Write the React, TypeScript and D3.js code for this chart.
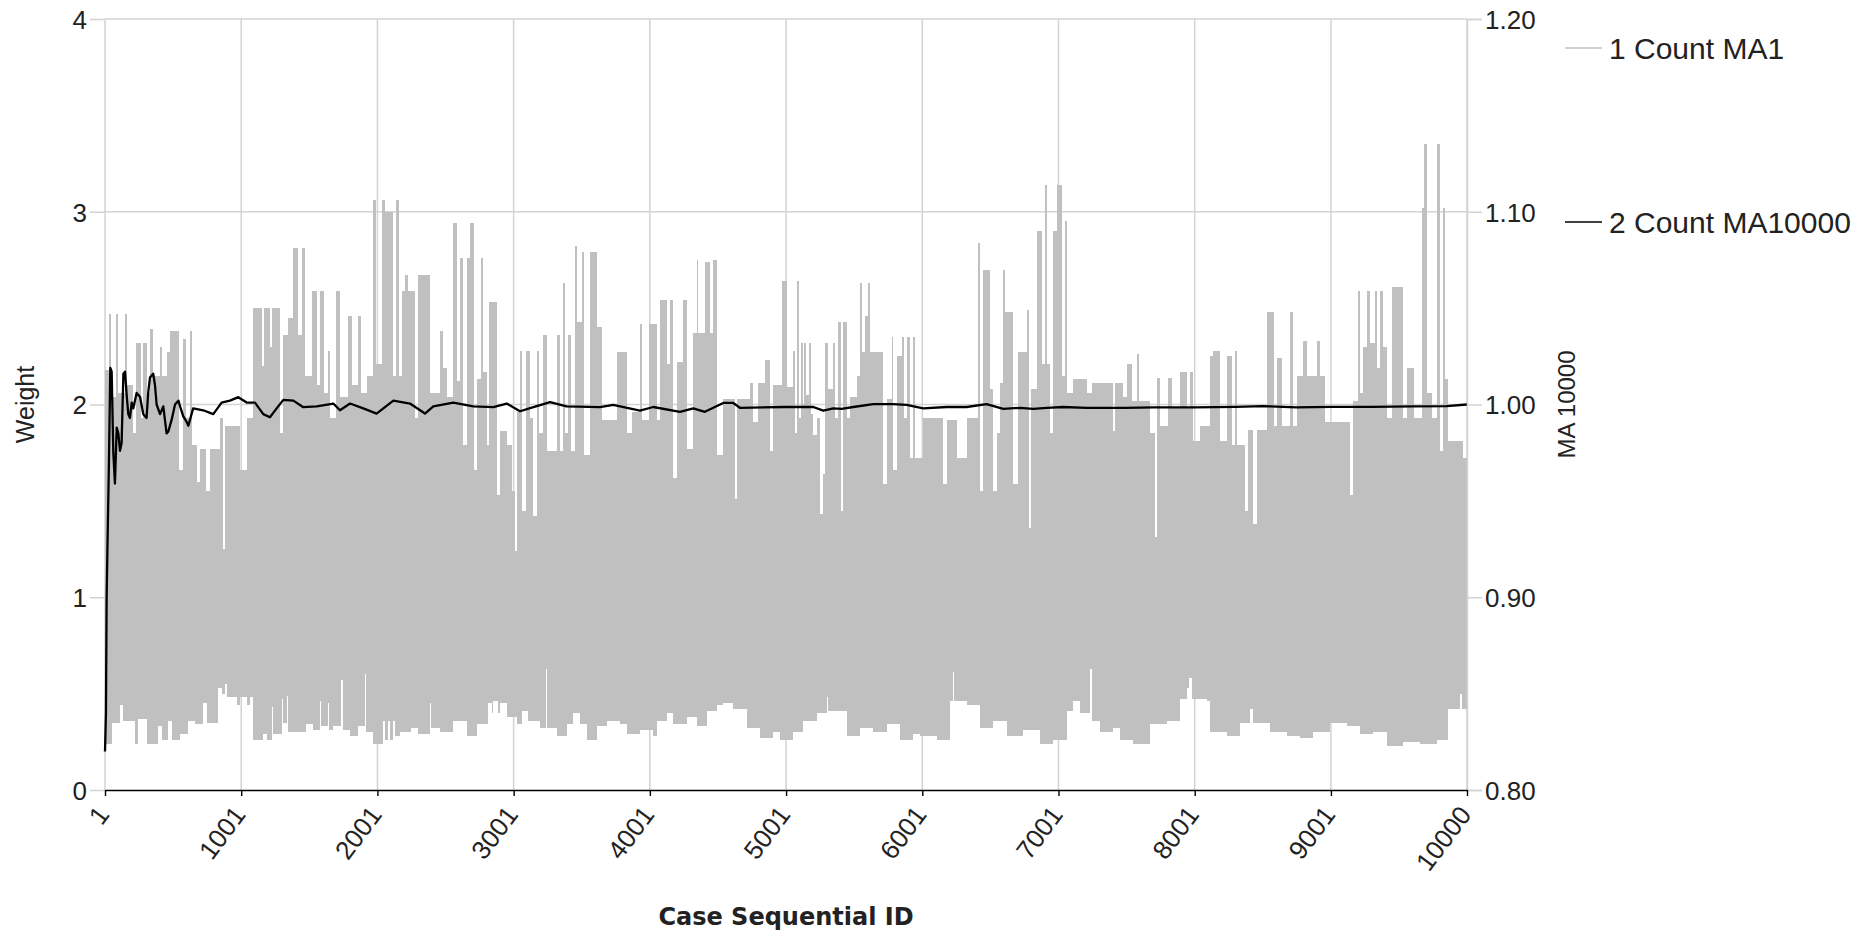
import { useRef, useEffect } from 'react';
import * as d3 from 'd3';

const WIDTH = 1875;
const HEIGHT = 934;

const caseTicks = [1, 1001, 2001, 3001, 4001, 5001, 6001, 7001, 8001, 9001, 10000];
const weightTicks = [0, 1, 2, 3, 4];
const maTicks = [0.8, 0.9, 1.0, 1.1, 1.2];
const seriesNames = ['1 Count MA1', '2 Count MA10000'];

// MA1 weight, upper edge of the dense trace: [case, weight] (each value holds until the next case)
const ma1Top: [number, number][] = [
  [1, 2.18], [27, 2.47], [42, 2.04], [81, 2.47], [100, 2.06], [147, 2.47], [164, 2.1], [208, 1.85],
  [227, 2.32], [262, 1.93], [281, 2.32], [306, 2.06], [330, 2.39], [355, 2.15], [404, 2.3], [423, 2.15],
  [453, 2.27], [477, 2.38], [546, 1.66], [570, 2.34], [594, 1.93], [624, 2.38], [643, 1.79], [673, 1.6],
  [697, 1.77], [746, 1.55], [771, 1.77], [844, 1.93], [869, 1.25], [881, 1.89], [991, 1.66], [1040, 1.93],
  [1084, 2.5], [1150, 2.2], [1165, 2.5], [1215, 2.3], [1228, 2.5], [1285, 1.85], [1309, 2.36], [1346, 2.45],
  [1383, 2.81], [1419, 2.36], [1444, 2.81], [1468, 2.15], [1517, 2.59], [1554, 2.1], [1578, 2.59],
  [1608, 2.06], [1639, 2.28], [1652, 1.93], [1700, 2.59], [1725, 2.04], [1786, 2.46], [1811, 2.1],
  [1860, 2.46], [1884, 2.06], [1921, 2.15], [1970, 3.06], [1994, 2.21], [2031, 3.06], [2056, 3.0],
  [2117, 2.15], [2141, 3.06], [2161, 2.15], [2178, 2.59], [2202, 2.67], [2227, 2.59], [2276, 1.93],
  [2300, 2.67], [2386, 2.06],
  [2460, 2.38], [2484, 2.19], [2509, 2.04], [2553, 2.94], [2582, 2.12], [2607, 2.76], [2631, 1.79],
  [2656, 2.76], [2680, 2.94], [2710, 1.66], [2729, 2.13], [2759, 2.76], [2773, 2.17], [2803, 1.79],
  [2822, 2.53], [2881, 1.53], [2900, 1.86], [2949, 1.79], [2986, 1.55], [3011, 1.24], [3028, 1.96],
  [3047, 2.28], [3062, 1.45], [3091, 2.28], [3121, 1.93], [3145, 1.42], [3170, 2.28], [3184, 1.85],
  [3219, 2.36], [3248, 1.76], [3316, 2.36], [3341, 1.76], [3360, 2.63], [3378, 1.85], [3402, 2.36],
  [3419, 1.76], [3451, 2.82], [3468, 2.43], [3500, 2.79], [3517, 1.74], [3561, 2.79], [3610, 2.4],
  [3647, 1.92], [3757, 2.27], [3830, 1.85], [3867, 1.96], [3928, 2.42], [3945, 1.92], [3997, 2.42],
  [4051, 1.92], [4075, 2.54], [4124, 2.21], [4148, 2.54], [4173, 1.62], [4197, 2.22], [4246, 2.54],
  [4271, 1.77], [4320, 2.37], [4344, 2.75], [4356, 2.37], [4405, 2.74], [4442, 2.37], [4467, 2.75],
  [4491, 1.74], [4540, 2.03], [4626, 1.51], [4638, 2.03], [4736, 2.11], [4760, 1.91], [4797, 2.11],
  [4846, 2.23], [4883, 1.76], [4907, 2.1], [4968, 2.64],
  [5005, 2.09], [5054, 2.28], [5066, 1.85], [5083, 2.64], [5098, 1.93], [5108, 2.32], [5125, 2.0],
  [5135, 2.32], [5150, 2.05], [5170, 2.32], [5185, 1.95], [5201, 1.84], [5225, 1.93], [5250, 1.43],
  [5269, 1.64], [5286, 2.32], [5311, 2.08], [5348, 2.32], [5360, 1.93], [5384, 2.43], [5401, 1.45],
  [5421, 2.43], [5445, 1.93], [5470, 2.04], [5519, 2.15], [5543, 2.63], [5556, 2.27], [5580, 2.46],
  [5604, 2.63], [5617, 2.27], [5715, 1.59], [5739, 2.03], [5776, 2.35], [5788, 1.66], [5812, 2.25],
  [5849, 2.35], [5866, 1.93], [5886, 2.35], [5910, 1.72], [5935, 2.35], [5947, 1.72], [6008, 1.93],
  [6155, 1.59], [6180, 1.92], [6253, 1.72], [6326, 1.93], [6412, 2.84], [6424, 1.55], [6449, 2.7],
  [6498, 2.08], [6522, 1.55], [6547, 1.85], [6571, 2.11], [6596, 2.7], [6608, 2.48], [6669, 1.59],
  [6706, 2.27], [6767, 2.49], [6786, 1.36], [6796, 2.08], [6840, 2.9], [6877, 2.21], [6901, 3.14],
  [6914, 2.21], [6938, 1.85], [6963, 2.9], [6987, 3.14], [7024, 2.15], [7048, 2.95], [7060, 2.06],
  [7109, 2.13], [7207, 2.06], [7244, 2.11], [7403, 1.86], [7415, 2.11],
  [7452, 2.11], [7476, 2.04], [7501, 2.21], [7538, 2.02], [7574, 2.26], [7594, 2.02], [7672, 1.85],
  [7709, 1.31], [7721, 2.14], [7746, 1.89], [7807, 2.14], [7831, 1.98], [7892, 2.17], [7941, 1.98],
  [7966, 2.17], [7990, 1.81], [8039, 1.89], [8113, 2.25], [8137, 2.28], [8186, 1.81], [8235, 2.25],
  [8272, 1.79], [8296, 2.28], [8308, 1.79], [8370, 1.45], [8394, 1.87], [8431, 1.38], [8455, 1.87],
  [8529, 2.48], [8583, 1.89], [8602, 2.24], [8639, 1.89], [8700, 2.48], [8724, 1.89], [8749, 2.15],
  [8798, 2.33], [8822, 2.15], [8896, 2.33], [8920, 2.15], [8957, 1.91], [9140, 1.53], [9165, 2.02],
  [9202, 2.59], [9214, 2.06], [9238, 2.3], [9263, 2.59], [9287, 2.32], [9324, 2.59], [9336, 2.19],
  [9361, 2.59], [9385, 2.3], [9410, 1.93], [9446, 2.61], [9532, 1.93], [9561, 2.19], [9610, 1.93],
  [9667, 3.02], [9684, 3.35], [9703, 2.06], [9740, 1.93], [9777, 3.35], [9801, 1.76], [9821, 3.02],
  [9838, 2.13], [9862, 1.81], [9972, 1.72],
];

// MA1 weight, lower edge of the dense trace: [case, weight]
const ma1Low: [number, number][] = [
  [1, 0.24], [50, 0.35], [111, 0.44], [136, 0.36], [221, 0.24], [246, 0.37], [307, 0.24], [393, 0.33],
  [417, 0.26], [466, 0.36], [490, 0.26], [552, 0.29], [613, 0.36], [662, 0.34], [723, 0.45], [747, 0.35],
  [833, 0.53], [857, 0.5], [882, 0.55], [894, 0.48], [968, 0.44], [992, 0.48], [1041, 0.44], [1065, 0.48],
  [1090, 0.26], [1163, 0.29], [1188, 0.26], [1224, 0.43], [1237, 0.29], [1298, 0.47], [1310, 0.35],
  [1335, 0.49], [1347, 0.3], [1432, 0.3], [1480, 0.34], [1529, 0.31], [1578, 0.46], [1585, 0.33],
  [1640, 0.45], [1648, 0.31], [1676, 0.33], [1737, 0.57], [1745, 0.31], [1800, 0.28], [1860, 0.33],
  [1909, 0.6], [1918, 0.3], [1970, 0.24], [2043, 0.36], [2055, 0.26], [2080, 0.36], [2095, 0.26],
  [2115, 0.36], [2130, 0.28], [2166, 0.3], [2250, 0.32], [2300, 0.29], [2386, 0.45], [2395, 0.32],
  [2460, 0.3], [2558, 0.36], [2656, 0.28], [2729, 0.34], [2815, 0.45], [2839, 0.4], [2850, 0.46],
  [2888, 0.4], [2900, 0.45], [2949, 0.38], [3023, 0.34], [3060, 0.41], [3108, 0.36], [3194, 0.32],
  [3238, 0.63], [3248, 0.32], [3316, 0.28], [3390, 0.34], [3439, 0.4], [3488, 0.34], [3537, 0.26],
  [3610, 0.33], [3683, 0.36], [3781, 0.34], [3830, 0.29], [3928, 0.31], [4026, 0.28], [4050, 0.36],
  [4124, 0.4], [4173, 0.34], [4271, 0.38], [4344, 0.33], [4418, 0.41], [4491, 0.44], [4540, 0.45],
  [4613, 0.42], [4711, 0.32], [4809, 0.27], [4907, 0.3],
  [4956, 0.26], [5054, 0.3], [5127, 0.36], [5225, 0.4], [5299, 0.48], [5310, 0.41], [5445, 0.28],
  [5543, 0.32], [5641, 0.3], [5739, 0.34], [5837, 0.26], [5935, 0.29], [5984, 0.28], [6106, 0.26],
  [6204, 0.46], [6224, 0.61], [6236, 0.46], [6326, 0.44], [6424, 0.32], [6522, 0.36], [6620, 0.28],
  [6742, 0.31], [6865, 0.24], [6963, 0.26], [7060, 0.41], [7109, 0.46], [7158, 0.4], [7232, 0.63],
  [7244, 0.36], [7305, 0.3], [7403, 0.32],
  [7452, 0.26], [7550, 0.24], [7672, 0.34], [7795, 0.36], [7892, 0.47], [7941, 0.53], [7961, 0.58],
  [7978, 0.47], [8088, 0.46], [8113, 0.3], [8235, 0.28], [8333, 0.35], [8406, 0.42], [8431, 0.35],
  [8553, 0.3], [8676, 0.28], [8773, 0.27], [8871, 0.3], [8994, 0.35], [9116, 0.33], [9214, 0.29],
  [9312, 0.3], [9410, 0.23], [9532, 0.25], [9654, 0.24], [9777, 0.26], [9862, 0.42], [9948, 0.5],
  [9960, 0.42],
];

// MA10000 running mean: [case, value] on the right axis
const ma10000: [number, number][] = [
  [1, 0.82], [8, 0.84], [13, 0.9], [20, 0.93], [30, 0.97], [40, 1.019], [50, 1.017], [62, 0.975],
  [74, 0.959], [87, 0.988], [99, 0.985], [111, 0.976], [123, 0.98], [136, 1.016], [148, 1.017],
  [160, 1.005], [172, 0.995], [184, 0.993], [197, 1.001], [209, 0.998], [233, 1.006], [258, 1.004],
  [282, 0.995], [306, 0.993], [318, 1.006], [331, 1.014], [355, 1.016], [368, 1.01], [380, 1.0],
  [405, 0.995], [429, 0.999], [453, 0.985], [466, 0.986], [490, 0.992], [515, 1.0], [540, 1.002],
  [552, 0.999], [575, 0.994], [600, 0.991], [613, 0.989], [648, 0.998], [722, 0.997], [796, 0.995],
  [857, 1.001], [918, 1.002], [980, 1.0038], [1041, 1.001], [1102, 1.001], [1163, 0.995], [1212, 0.9934],
  [1261, 0.998], [1310, 1.0024], [1384, 1.002], [1457, 0.9986], [1555, 0.999], [1677, 1.0005],
  [1726, 0.997], [1800, 1.0005], [1897, 0.998], [1995, 0.9953], [2118, 1.002], [2240, 1.0005],
  [2350, 0.9953], [2411, 0.999], [2558, 1.001], [2705, 0.999], [2852, 0.9986], [2950, 1.0005],
  [3048, 0.9965], [3146, 0.9986], [3268, 1.0012], [3390, 0.999], [3635, 0.9986], [3732, 0.9998],
  [3928, 0.9968], [4026, 0.9987], [4222, 0.9962], [4320, 0.998], [4405, 0.9962], [4540, 1.0008],
  [4613, 1.0008], [4662, 0.9983], [4993, 0.9987], [5201, 0.9987], [5274, 0.9968], [5348, 0.998],
  [5409, 0.9977], [5494, 0.9987], [5641, 1.0002], [5788, 1.0002], [5886, 0.9998], [6008, 0.998],
  [6180, 0.9987], [6326, 0.9987], [6473, 1.0002], [6596, 0.9977], [6718, 0.9983], [6816, 0.9977],
  [6914, 0.9983], [7036, 0.9987], [7207, 0.9983], [7489, 0.9983], [7700, 0.9985], [8000, 0.9985],
  [8300, 0.9988], [8500, 0.9992], [8750, 0.9985], [9000, 0.9988], [9300, 0.9988], [9600, 0.999],
  [9850, 0.9992], [10000, 1.0],
];

const TEXT = '#222';
const GRID = '#d3d3d3';
const MA1_COLOR = '#c0c0c0';
const FONT = '"Liberation Sans", Arial, sans-serif';

const App = () => {
  const svgRef = useRef<SVGSVGElement>(null);

  useEffect(() => {
    const svg = d3.select(svgRef.current);
    svg.selectAll('*').remove();

    const left = 105;
    const right = 1467;
    const top = 19;
    const bottom = 790;

    const x = d3.scaleLinear().domain([1, 10000]).range([left, right]);
    const yL = d3.scaleLinear().domain([0, 4]).range([bottom, top]);
    const yR = d3.scaleLinear().domain([0.8, 1.2]).range([bottom, top]);

    // grid
    const grid = svg.append('g');
    grid.selectAll('line.v')
      .data(caseTicks)
      .join('line')
      .attr('class', 'v')
      .attr('x1', d => x(d)).attr('x2', d => x(d))
      .attr('y1', yL(4)).attr('y2', yL(0))
      .attr('stroke', GRID).attr('stroke-width', 1.5);
    grid.selectAll('line.h')
      .data(weightTicks.slice(1))
      .join('line')
      .attr('class', 'h')
      .attr('x1', left).attr('x2', right)
      .attr('y1', d => yL(d)).attr('y2', d => yL(d))
      .attr('stroke', GRID).attr('stroke-width', 1.5);

    // MA1 trace as filled band between its upper and lower edges
    const topPts: [number, number][] = [...ma1Top, [10000, ma1Top[ma1Top.length - 1][1]]];
    const lowPts: [number, number][] = [...ma1Low, [10000, ma1Low[ma1Low.length - 1][1]]].reverse() as [number, number][];
    const topLine = d3.line<[number, number]>().x(d => x(d[0])).y(d => yL(d[1])).curve(d3.curveStepAfter);
    const lowLine = d3.line<[number, number]>().x(d => x(d[0])).y(d => yL(d[1])).curve(d3.curveStepBefore);
    const bandD = (topLine(topPts) || '') + 'L' + (lowLine(lowPts) || '').slice(1) + 'Z';
    svg.append('path')
      .attr('d', bandD)
      .attr('fill', MA1_COLOR)
      .attr('shape-rendering', 'crispEdges');

    // MA10000 line
    const maLine = d3.line<[number, number]>().x(d => x(d[0])).y(d => yR(d[1]));
    svg.append('path')
      .datum(ma10000)
      .attr('fill', 'none')
      .attr('stroke', '#000')
      .attr('stroke-width', 2.3)
      .attr('stroke-linejoin', 'round')
      .attr('d', maLine);

    // left axis
    const gL = svg.append('g')
      .attr('transform', `translate(${left},0)`)
      .call(d3.axisLeft(yL).tickValues(weightTicks).tickFormat(d3.format('d')).tickSize(15).tickPadding(3));
    gL.select('.domain').remove();
    gL.selectAll('.tick line').attr('stroke', GRID).attr('stroke-width', 1.5);
    gL.selectAll('.tick text')
      .attr('fill', TEXT).attr('font-size', 26).attr('font-family', FONT).attr('dy', '0.36em');

    // right axis
    const gR = svg.append('g')
      .attr('transform', `translate(${right},0)`)
      .call(d3.axisRight(yR).tickValues(maTicks).tickFormat(d3.format('.2f')).tickSize(15).tickPadding(3));
    gR.select('.domain').attr('stroke', GRID).attr('stroke-width', 1.5);
    gR.selectAll('.tick line').attr('stroke', GRID).attr('stroke-width', 1.5);
    gR.selectAll('.tick text')
      .attr('fill', TEXT).attr('font-size', 26).attr('font-family', FONT).attr('dy', '0.36em');

    // bottom axis
    const gB = svg.append('g')
      .attr('transform', `translate(0,${bottom})`)
      .call(d3.axisBottom(x).tickValues(caseTicks).tickFormat(d3.format('d')).tickSize(6).tickSizeOuter(0));
    gB.select('.domain').attr('stroke', '#000').attr('stroke-width', 1.4);
    gB.selectAll('.tick line').attr('stroke', '#000').attr('stroke-width', 1.4);
    gB.selectAll('.tick text')
      .attr('fill', TEXT).attr('font-size', 26).attr('font-family', FONT)
      .attr('x', 0).attr('y', 0).attr('dy', 0)
      .attr('text-anchor', 'end')
      .attr('transform', 'translate(5,25) rotate(-53)');

    // axis titles
    svg.append('text')
      .attr('transform', `translate(34,${yL(2)}) rotate(-90)`)
      .attr('text-anchor', 'middle')
      .attr('font-family', FONT).attr('font-size', 25).attr('fill', TEXT)
      .text('Weight');
    svg.append('text')
      .attr('transform', `translate(1575,${yR(1.0)}) rotate(-90)`)
      .attr('text-anchor', 'middle')
      .attr('font-family', FONT).attr('font-size', 24).attr('fill', TEXT)
      .text('MA 10000');
    svg.append('text')
      .attr('x', (left + right) / 2).attr('y', 925)
      .attr('text-anchor', 'middle')
      .attr('font-family', '"DejaVu Sans", Verdana, sans-serif')
      .attr('font-weight', 'bold').attr('font-size', 24).attr('fill', TEXT)
      .text('Case Sequential ID');

    // legend
    const legendY = [48, 222];
    const legendColors = [MA1_COLOR, '#000'];
    const lg = svg.append('g');
    const items = lg.selectAll('g').data(seriesNames).join('g')
      .attr('transform', (d, i) => `translate(1565,${legendY[i]})`);
    items.append('line')
      .attr('x1', 0).attr('x2', 37).attr('y1', 0).attr('y2', 0)
      .attr('stroke', (d, i) => legendColors[i]).attr('stroke-width', 1.6);
    items.append('text')
      .attr('x', 44).attr('dy', '0.36em')
      .attr('font-family', FONT).attr('font-size', 30).attr('fill', TEXT)
      .text(d => d);
  }, []);

  return (
    <svg
      ref={svgRef}
      width={WIDTH}
      height={HEIGHT}
      style={{ position: 'absolute', left: 0, top: 0, background: '#fff' }}
    />
  );
};

export default App;
